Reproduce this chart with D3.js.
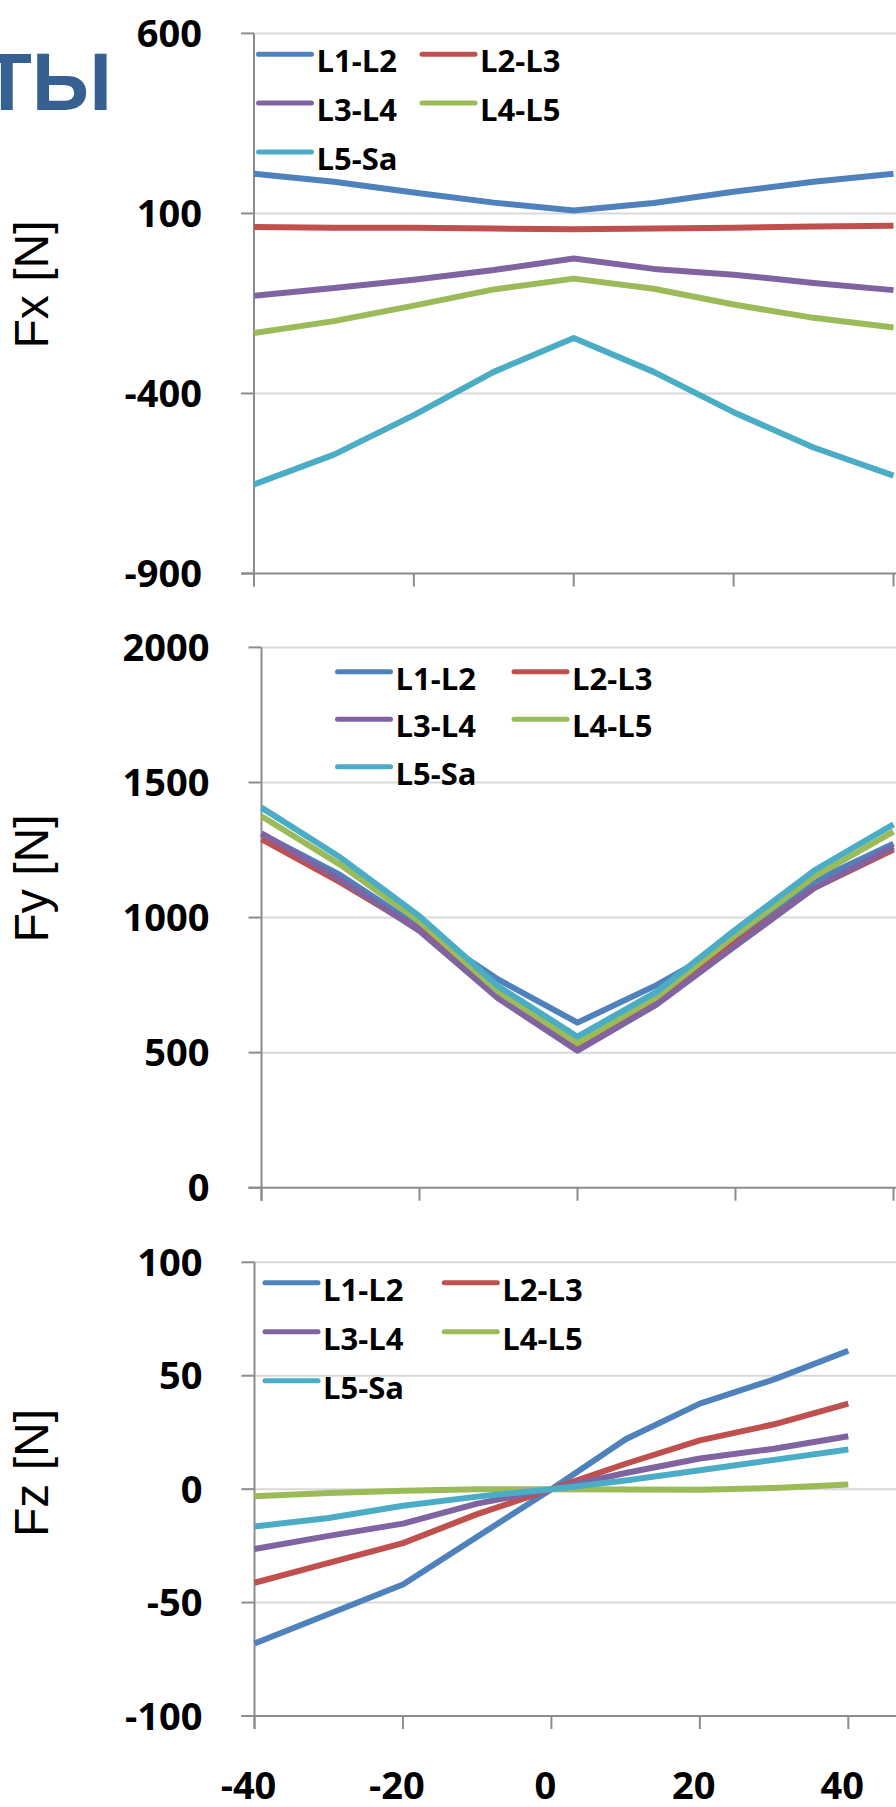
<!DOCTYPE html>
<meta charset="utf-8">
<script src="https://d3js.org/d3.v7.min.js"></script>
<style>
  body { margin: 0; background: #fff; }
  .tick-label { font-family: "Open Sans", sans-serif; font-weight: bold; font-size: 38px; fill: #000; }
  .legend-label { font-family: "Open Sans", sans-serif; font-weight: bold; font-size: 31px; fill: #000; }
  .axis-title { font-family: "Liberation Sans", Arial, sans-serif; font-size: 48px; fill: #000; }
</style>
<svg id="chart" width="896" height="1807"></svg>
<script>

// x values (degrees)
var angles = [-40, -30, -20, -10, 0, 10, 20, 30, 40];
var xTicks = [-40, -20, 0, 20, 40];

var seriesNames = ["L1-L2", "L2-L3", "L3-L4", "L4-L5", "L5-Sa"];
var seriesColors = ["#4F81BD", "#C0504D", "#8064A2", "#9BBB59", "#4BACC6"];

// Fx [N]
var fxTicks = [600, 100, -400, -900];
var fxValues = [
  [210, 188, 158, 130, 108, 129, 160, 188, 210],
  [62, 60, 60, 58, 56, 58, 60, 64, 66],
  [-129, -107, -84, -57, -25, -54, -70, -93, -113],
  [-232, -199, -156, -111, -81, -109, -153, -190, -217],
  [-653, -570, -460, -340, -246, -340, -452, -550, -628]
];

// Fy [N]
var fyTicks = [2000, 1500, 1000, 500, 0];
var fyValues = [
  [1310, 1157, 965, 770, 611, 750, 915, 1135, 1273],
  [1290, 1130, 955, 710, 520, 690, 905, 1110, 1252],
  [1312, 1140, 950, 700, 507, 678, 895, 1110, 1262],
  [1375, 1195, 985, 725, 535, 705, 935, 1152, 1318],
  [1407, 1222, 1005, 745, 559, 725, 955, 1175, 1345]
];

// Fz [N]
var fzTicks = [100, 50, 0, -50, -100];
var fzValues = [
  [-68, -55, -42, -21, 0, 22, 37.7, 48.4, 61],
  [-41.3, -32.5, -23.8, -11, 0, 11.2, 21.5, 28.6, 37.7],
  [-26.4, -20.6, -15.2, -6.4, 0, 7.1, 13.5, 17.8, 23.3],
  [-3.1, -1.7, -0.7, 0, 0, -0.2, -0.3, 0.5, 2],
  [-16.5, -12.7, -7.3, -3.3, 0, 3.8, 8.3, 12.9, 17.5]
];

var svg = d3.select("#chart");

// slide title fragment (cut off at the left edge, as in the slide)
svg.append("text")
  .attr("x", 112)
  .attr("y", 110)
  .attr("text-anchor", "end")
  .style("font-family", "'Liberation Sans', Arial, sans-serif")
  .style("font-weight", "bold")
  .style("font-size", "82px")
  .style("fill", "#366092")
  .text("ТЫ");

// one panel per force component
function drawPanel(p) {
  var g = svg.append("g");

  var x = d3.scaleLinear().domain([-40, 40]).range([p.left, p.right]);
  var y = d3.scaleLinear().domain(p.domain).range([p.bottom, p.top]);

  // gridlines
  g.selectAll(".grid")
    .data(p.ticks.filter(function(d){ return d !== p.domain[0] }))
    .enter()
    .append("line")
      .attr("x1", p.left)
      .attr("x2", 896)
      .attr("y1", function(d){ return y(d) })
      .attr("y2", function(d){ return y(d) })
      .attr("stroke", "#D9D9D9")
      .attr("stroke-width", 2);

  // y axis line + ticks
  g.append("line")
    .attr("x1", p.left).attr("x2", p.left)
    .attr("y1", p.top).attr("y2", p.bottom + 13)
    .attr("stroke", "#8C8C8C").attr("stroke-width", 2);

  g.selectAll(".ytick")
    .data(p.ticks)
    .enter()
    .append("line")
      .attr("x1", p.left - 13)
      .attr("x2", p.left)
      .attr("y1", function(d){ return y(d) })
      .attr("y2", function(d){ return y(d) })
      .attr("stroke", "#8C8C8C")
      .attr("stroke-width", 2);

  g.selectAll(".ylabel")
    .data(p.ticks)
    .enter()
    .append("text")
      .attr("class", "tick-label")
      .attr("x", p.left - 52)
      .attr("y", function(d){ return y(d) + 13.5 })
      .attr("text-anchor", "end")
      .text(function(d){ return d });

  // x axis line + ticks
  g.append("line")
    .attr("x1", p.left - 13).attr("x2", 896)
    .attr("y1", p.bottom).attr("y2", p.bottom)
    .attr("stroke", "#8C8C8C").attr("stroke-width", 2);

  g.selectAll(".xtick")
    .data(xTicks)
    .enter()
    .append("line")
      .attr("x1", function(d){ return x(d) })
      .attr("x2", function(d){ return x(d) })
      .attr("y1", p.bottom)
      .attr("y2", p.bottom + 13)
      .attr("stroke", "#8C8C8C")
      .attr("stroke-width", 2);

  if (p.xLabels) {
    g.selectAll(".xlabel")
      .data(xTicks)
      .enter()
      .append("text")
        .attr("class", "tick-label")
        .attr("x", function(d){ return x(d) - 6 })
        .attr("y", 1799)
        .attr("text-anchor", "middle")
        .text(function(d){ return d });
  }

  // axis title
  g.append("text")
    .attr("class", "axis-title")
    .attr("transform", "translate(48," + p.titleY + ") rotate(-90)")
    .attr("text-anchor", "middle")
    .text(p.title);

  // series
  var line = d3.line()
    .x(function(d, i){ return x(angles[i]) })
    .y(function(d){ return y(d) });

  g.selectAll(".series")
    .data(p.values)
    .enter()
    .append("path")
      .attr("d", line)
      .attr("fill", "none")
      .attr("stroke", function(d, i){ return seriesColors[i] })
      .attr("stroke-width", 6)
      .attr("stroke-linejoin", "round");

  // legend, two columns
  var leg = g.selectAll(".legend")
    .data(seriesNames)
    .enter()
    .append("g")
      .attr("transform", function(d, i){
        return "translate(" + (p.legX + (i % 2) * p.legCol) + "," + (p.legY + Math.floor(i / 2) * p.legRow) + ")";
      });

  leg.append("line")
    .attr("x1", 0).attr("x2", 53)
    .attr("y1", 0).attr("y2", 0)
    .attr("stroke", function(d, i){ return seriesColors[i] })
    .attr("stroke-width", 5)
    .attr("stroke-linecap", "round");

  leg.append("text")
    .attr("class", "legend-label")
    .attr("x", 58)
    .attr("y", 18)
    .text(function(d){ return d });
}

drawPanel({ title: "Fx [N]", ticks: fxTicks, values: fxValues, domain: [-900, 600],
  left: 254, right: 893.5, top: 33.4, bottom: 573.5, titleY: 284.5,
  legX: 258.5, legY: 54.3, legCol: 163.5, legRow: 48.8, xLabels: false });

drawPanel({ title: "Fy [N]", ticks: fyTicks, values: fyValues, domain: [0, 2000],
  left: 261.5, right: 893.5, top: 647.4, bottom: 1187.7, titleY: 878.5,
  legX: 337.5, legY: 671.7, legCol: 176.5, legRow: 47.5, xLabels: false });

drawPanel({ title: "Fz [N]", ticks: fzTicks, values: fzValues, domain: [-100, 100],
  left: 254.5, right: 848.3, top: 1262.3, bottom: 1716, titleY: 1473,
  legX: 265, legY: 1282.7, legCol: 179.3, legRow: 49, xLabels: true });

</script>
